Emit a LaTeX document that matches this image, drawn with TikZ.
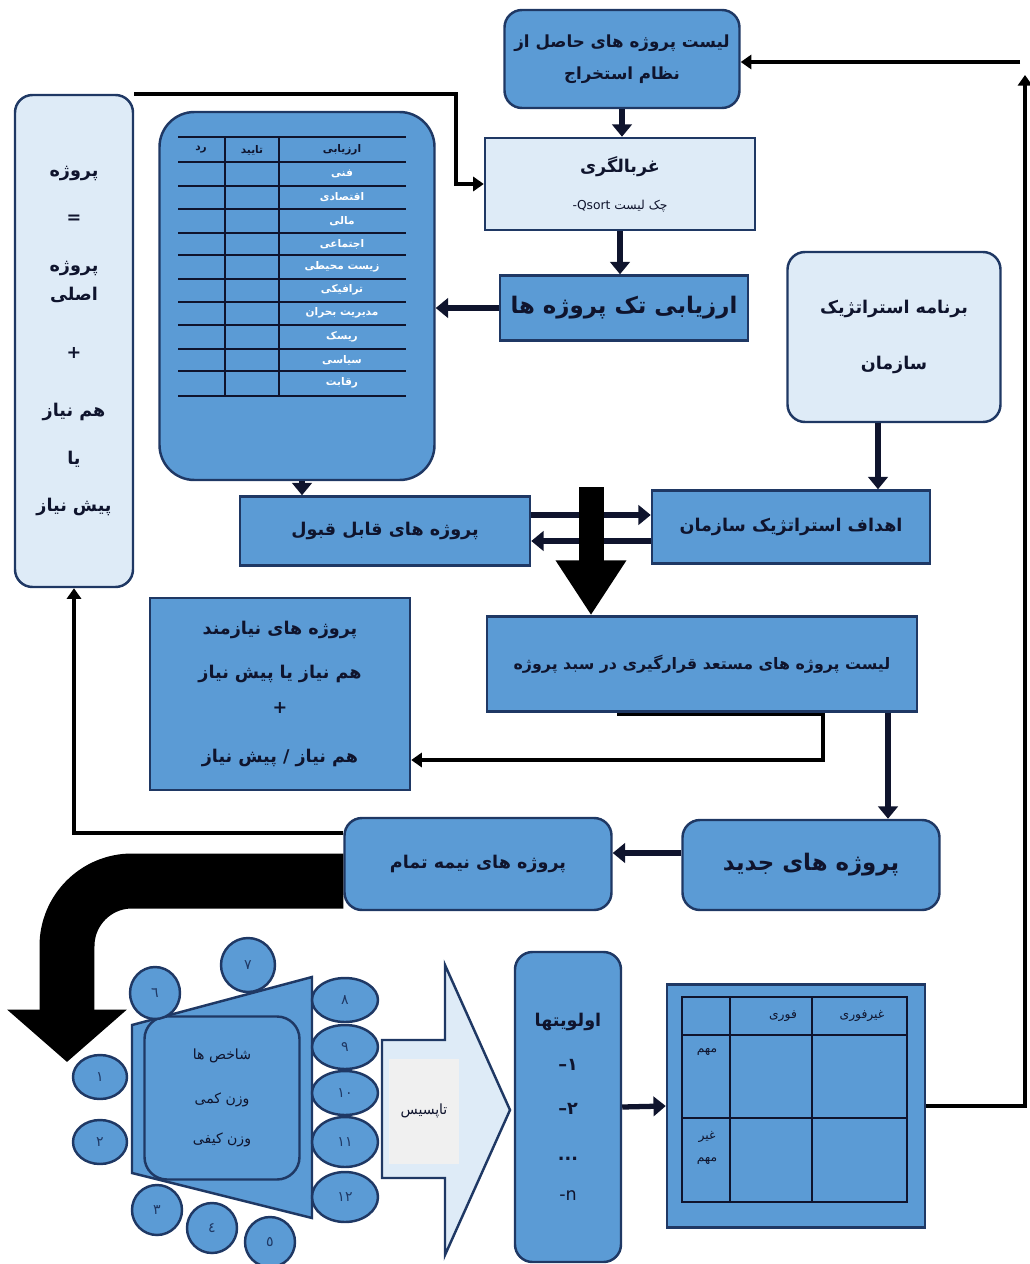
\documentclass[tikz,border=0pt]{standalone}
\usepackage{fontspec}
\newfontfamily\fa[Script=Arabic]{DejaVu Sans}
\TeXXeTstate=1
\usetikzlibrary{arrows.meta,shapes.geometric,calc}

\definecolor{boxblue}{RGB}{91,155,213}
\definecolor{paleblue}{RGB}{222,235,247}
\definecolor{navy}{RGB}{31,56,100}
\definecolor{ink}{RGB}{15,20,45}

\newcommand{\fat}[1]{\beginR #1\endR}

\tikzset{
  wh/.style 2 args={minimum width=#1*0.02cm, minimum height=#2*0.02cm},
  box/.style={draw=navy, line width=1.4pt, fill=boxblue, text=ink, align=center,
    inner sep=1pt, font=\fa\bfseries\fontsize{10}{12}\selectfont},
  palebox/.style={box, fill=paleblue},
  roundbox/.style={rounded corners=0.35cm},
  bigtext/.style={font=\fa\bfseries\fontsize{13}{15}\selectfont},
  link/.style={draw=ink, line width=3.5pt, -{Triangle[length=7pt,width=11pt]}},
  feed/.style={draw=black, line width=2pt, -{Triangle[length=6pt,width=8pt]}},
  gridline/.style={draw=ink, line width=0.9pt},
  bubble/.style={ellipse, draw=navy, line width=1.4pt, fill=boxblue, inner sep=0pt,
    text=navy, font=\fa\fontsize{8}{8}\selectfont},
  celltext/.style={text=ink, font=\fa\bfseries\fontsize{6}{7}\selectfont},
}

\begin{document}
\begin{tikzpicture}[x=0.02cm, y=-0.02cm]
  \useasboundingbox (0,0) rectangle (1030,1264);

  % upper part
  \node[box, roundbox, wh={235}{98}, font=\fa\bfseries\fontsize{9.5}{11.5}\selectfont] (extract) at (622,59)
    {\fat{لیست پروژه های حاصل از}\\[7pt]\fat{نظام استخراج}};
  \node[palebox, roundbox, wh={118}{492}] (whole) at (74,341)
    {\fat{پروژه}\\[15pt]=\\[15pt]\fat{پروژه}\\[5pt]\fat{اصلی}\\[21pt]+\\[21pt]
     \fat{هم نیاز}\\[15pt]\fat{یا}\\[15pt]\fat{پیش نیاز}};
  \node[box, rounded corners=0.7cm, wh={275}{368}] (assess) at (297,296) {};
  \node[palebox, wh={270}{92}] (sieve) at (620,184)
    {\fat{غربالگری}\\[9pt]{\mdseries\fontsize{7}{8}\selectfont\fat{چک لیست \beginL-Qsort\endL}}};
  \node[box, bigtext, wh={248}{65}] (single) at (624,308) {\fat{ارزیابی تک پروژه ها}};
  \node[palebox, roundbox, wh={213}{170}] (plan) at (894,337)
    {\fat{برنامه استراتژیک}\\[20pt]\fat{سازمان}};

  % assessment table
  \foreach \ry in {137,162,186,209,233,255,279,302,325,349,371,396}
    \draw[gridline] (178,\ry) -- (406,\ry);
  \foreach \cx in {225,279}
    \draw[gridline] (\cx,137) -- (\cx,396);
  \node[celltext] (hdcrit) at (342,150) {\fat{ارزیابی}};
  \node[celltext] (hdok) at (252,150) {\fat{تایید}};
  \node[celltext] (hdno) at (201,150) {\fat{رد}};
  \foreach \ry/\lab in {174/فنی, 197/اقتصادی, 221/مالی, 244/اجتماعی, 267/زیست محیطی,
      290/ترافیکی, 313/مدیریت بحران, 337/ریسک, 360/سیاسی, 383/رقابت}
    \node[celltext, text=white] at (342,\ry) {\fat{\lab}};

  % middle part
  \node[box, wh={290}{69}] (accept) at (385,531) {\fat{پروژه های قابل قبول}};
  \node[box, wh={278}{73}] (goals) at (791,527) {\fat{اهداف استراتژیک سازمان}};
  \node[box, wh={260}{192}] (need) at (280,694)
    {\fat{پروژه های نیازمند}\\[13pt]\fat{هم نیاز یا پیش نیاز}\\[8pt]+\\[16pt]\fat{هم نیاز / پیش نیاز}};
  \node[box, wh={430}{95}, font=\fa\bfseries\fontsize{9}{11}\selectfont] (cand) at (702,664)
    {\fat{لیست پروژه های مستعد قرارگیری در سبد پروژه}};
  \node[box, roundbox, wh={267}{92}] (half) at (478,864) {\fat{پروژه های نیمه تمام}};
  \node[box, roundbox, bigtext, wh={257}{90}] (new) at (811,865) {\fat{پروژه های جدید}};

  % bottom part
  \draw[draw=navy, line width=1.4pt, fill=boxblue]
    (132,1025) -- (312,977) -- (312,1218) -- (132,1173) -- cycle;
  \node[box, rounded corners=0.45cm, wh={155}{163}, font=\fa\fontsize{8}{9}\selectfont] (crit) at (222,1098)
    {\fat{شاخص ها}\\[16pt]\fat{وزن کمی}\\[14pt]\fat{وزن کیفی}};
  \node[bubble, wh={54}{44}] (b1) at (100,1077) {١};
  \node[bubble, wh={54}{44}] (b2) at (100,1142) {٢};
  \node[bubble, wh={50}{50}] (b3) at (157,1210) {٣};
  \node[bubble, wh={50}{50}] (b4) at (212,1228) {٤};
  \node[bubble, wh={50}{50}] (b5) at (270,1242) {٥};
  \node[bubble, wh={50}{52}] (b6) at (155,993) {٦};
  \node[bubble, wh={54}{54}] (b7) at (248,965) {٧};
  \node[bubble, wh={66}{44}] (b8) at (345,1000) {٨};
  \node[bubble, wh={66}{44}] (b9) at (345,1047) {٩};
  \node[bubble, wh={66}{44}] (b10) at (345,1093) {١٠};
  \node[bubble, wh={66}{50}] (b11) at (345,1142) {١١};
  \node[bubble, wh={66}{50}] (b12) at (345,1197) {١٢};

  \draw[draw=navy, line width=1.4pt, fill=paleblue]
    (382,1040) -- (445,1040) -- (445,965) -- (510,1110) -- (445,1255) -- (445,1178) -- (382,1178) -- cycle;
  \node[fill=gray!12, wh={70}{105}, font=\fa\fontsize{8}{9}\selectfont, text=ink] (topsis) at (424,1111)
    {\fat{تاپسیس}};

  \node[box, roundbox, wh={106}{310}] (prio) at (568,1107)
    {\fat{اولویتها}\\[13pt]\hbox{–}\hbox{١}\\[13pt]\hbox{–}\hbox{٢}\\[14pt]...\\[11pt]{\mdseries -n}};
  \node[box, wh={258}{243}] (urgency) at (796,1106) {};
  \draw[gridline] (682,997) rectangle (907,1202);
  \foreach \cx in {730,812}
    \draw[gridline] (\cx,997) -- (\cx,1202);
  \foreach \ry in {1035,1118}
    \draw[gridline] (682,\ry) -- (907,\ry);
  \node[celltext, font=\fa\fontsize{7}{8}\selectfont] (urg) at (783,1016) {\fat{فوری}};
  \node[celltext, font=\fa\fontsize{7}{8}\selectfont] (nurg) at (862,1016) {\fat{غیرفوری}};
  \node[celltext, font=\fa\fontsize{7}{8}\selectfont] (imp) at (707,1052) {\fat{مهم}};
  \node[celltext, font=\fa\fontsize{7}{8}\selectfont, align=center] (nimp) at (707,1148)
    {\fat{غیر}\\[5pt]\fat{مهم}};

  % connectors
  \draw[link] (extract.south) -- (extract.south |- sieve.north);
  \draw[link] (sieve.south) -- (sieve.south |- single.north);
  \draw[link] (single.west) -- (single.west -| assess.east);
  \draw[link] (assess.south -| 302,0) -- (accept.north -| 302,0);
  \draw[link] (plan.south -| 878,0) -- (goals.north -| 878,0);
  \draw[link] (accept.east |- 0,515) -- (goals.west |- 0,515);
  \draw[link] (goals.west |- 0,541) -- (accept.east |- 0,541);
  \coordinate (passtop) at (591,487);
  \draw[draw=black, line width=0.5cm, -{Triangle[length=1.1cm,width=1.34cm]}]
    (passtop) -- (cand.north -| passtop);
  \draw[link] (cand.south -| 888,0) -- (new.north -| 888,0);
  \draw[link] (new.west |- 0,853) -- (half.east |- 0,853);
  \draw[feed] (whole.north east) -- ++(322,0) |- (sieve.west);
  \draw[feed] ($(cand.south)+(-85,2)$) -- ($(cand.south)+(121,2)$) |- (need.east |- 0,760);
  \draw[feed] (half.west |- 0,833) -| (whole.south);
  \coordinate (bendtop) at (67,881);
  \draw[draw=black, line width=1.1cm, rounded corners=1.3cm, -{Triangle[length=1.05cm,width=2.34cm]}]
    (half.west |- bendtop) -- (bendtop) -- (67,1062);
  \draw[link, line width=3pt] (prio.east) -- (urgency.west);
  \coordinate (loopcorner) at (1025,1106);
  \coordinate (looptop) at (1025,75);
  \coordinate (loopstart) at (1020,62);
  \draw[feed] (urgency.east) -- (loopcorner) -- (looptop);
  \draw[feed] (loopstart) -- (loopstart -| extract.east);
\end{tikzpicture}
\end{document}
